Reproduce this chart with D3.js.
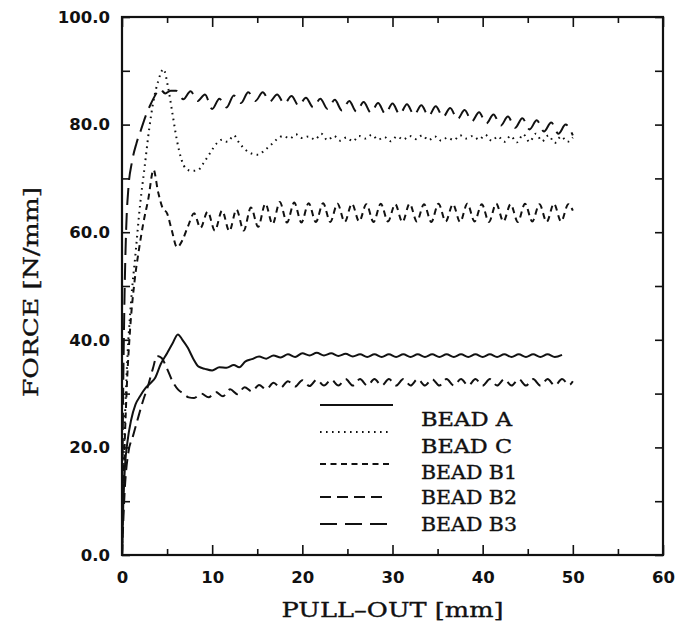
<!DOCTYPE html>
<html lang="en">
<head>
  <meta charset="UTF-8">
  <title>Bead pull-out force</title>
  <script src="https://d3js.org/d3.v7.min.js"></script>
  <style>
    body { margin: 0; background: #fff; }
    .tick text { font-family: "DejaVu Sans", sans-serif; font-weight: bold; font-size: 16.5px; fill: #111; }
    .tick line { stroke: #111; stroke-width: 1.6; }
    .title { font-family: "DejaVu Serif", serif; font-size: 20px; fill: #111; stroke: #111; stroke-width: 0.35; }
    .legend text { font-family: "DejaVu Serif", serif; font-size: 18px; fill: #111; stroke: #111; stroke-width: 0.35; }
    .curve { fill: none; stroke: #111; stroke-width: 2; }
  </style>
</head>
<body>
  <div id="chart"></div>
  <script>
    // pull-out [mm] vs force [N/mm]
    const beadA = [[0,0],[0.15,10],[0.35,17],[0.6,21],[1.0,25],[1.5,28],[2.0,29.5],[2.6,31],[3.2,32],[3.7,33],[4.3,35.5],[5.0,37.5],[5.6,39.3],[6.2,41.0],[6.7,40.0],[7.3,38.5],[7.9,36.5],[8.5,35.0],[9.2,34.6],[10.0,34.3],[10.8,34.9],[11.6,34.8],[12.4,35.3],[13.0,34.9],[13.7,36.0],
      [14.4,36.4],[15.2,36.9],[16.0,36.5],[16.8,37.1],[17.6,36.7],[18.4,37.3],[19.2,36.8],[20.0,37.5],[20.8,37.1],[21.6,37.6],[22.4,37.1],[23.2,37.5],[24.0,37.0],[24.8,37.4],[25.6,36.9],[26.4,37.3],[27.2,36.8],[28.0,37.3],[28.8,36.8],[29.6,37.3],[30.4,36.8],[31.2,37.3],[32.0,36.8],[32.8,37.3],[33.6,36.8],[34.4,37.3],[35.2,36.8],[36.0,37.3],[36.8,36.8],[37.6,37.3],[38.4,36.8],[39.2,37.3],[40.0,36.8],[40.8,37.3],[41.6,36.8],[42.4,37.3],[43.2,36.8],[44.0,37.3],[44.8,36.8],[45.6,37.3],[46.4,36.8],[47.2,37.3],[48.0,36.8],[48.8,37.2]];

    const beadC = [[0,0],[0.2,18],[0.5,33],[1.0,47],[1.5,56],[2.0,65],[2.5,72],[3.0,79],[3.5,84.5],[4.0,88],[4.6,90.3],[5.1,87],[5.6,82],[6.1,77],[6.6,73.5],[7.1,71.8],[7.7,71.4],[8.4,71.5],[9.1,73],[9.8,74.8],[10.5,76.5],[11.1,77.2],[11.7,76.8],[12.4,78.0],[13.0,76.6],[13.7,75.3],[14.4,74.6],[15.1,74.4],[15.8,75.2],[16.5,76.2],[17.2,77.3],[17.9,77.9],[18.6,77.4],[19.3,78.2],[20.0,77.5],[20.7,77.8],[21.4,77.2],[22.1,78.3],[22.8,77.1],[23.5,77.9],[24.2,77.0],[24.9,77.6],[25.6,76.9],[26.3,77.9],[27.0,77.4],[27.7,78.1],[28.4,77.2],[29.1,77.7],[29.8,76.9],[30.5,77.8],[31.2,77.2],[31.9,77.9],[32.6,77.3],[33.3,78.0],[34.0,77.1],[34.7,77.8],[35.4,77.0],[36.1,77.6],[36.8,77.1],[37.5,78.0],[38.2,77.4],[38.9,77.9],[39.6,77.2],[40.3,78.1],[41.0,77.0],[41.7,77.8],[42.4,76.8],[43.1,77.9],[43.8,76.7],[44.5,78.2],[45.2,76.8],[45.9,78.3],[46.6,76.9],[47.3,78.0],[48.0,76.6],[48.7,77.8],[49.4,76.8],[50.0,77.6]];

    const beadB1 = [[0,0],[0.2,15],[0.5,30],[0.9,42],[1.4,51],[1.9,57],[2.4,62],[2.9,66],[3.5,71.6],[4.0,67.5],[4.5,64.5],[5.0,63.5],[5.5,60.5],[6.1,57.2],[6.7,58.5],[7.3,61],[8.0,63.5],[8.7,60.8],[9.5,63.8],[10.3,60.3],[11.1,64.0],[11.9,60.2],[12.7,64.2],[13.5,60.3],[14.3,64.6],[15.1,61.0],[15.9,65.3],[16.7,61.5],[17.5,65.6],[18.3,61.8],[19.1,65.5],[19.9,61.8],[20.7,65.4],[21.5,61.9],[22.3,65.4],[23.1,61.9],[23.9,65.3],[24.7,61.9],[25.5,65.3],[26.3,62.0],[27.1,65.2],[27.9,61.9],[28.7,65.3],[29.5,62.0],[30.3,65.2],[31.1,61.9],[31.9,65.3],[32.7,62.0],[33.5,65.2],[34.3,61.9],[35.1,65.3],[35.9,62.0],[36.7,65.2],[37.5,61.9],[38.3,65.3],[39.1,62.0],[39.9,65.2],[40.7,61.9],[41.5,65.3],[42.3,62.0],[43.1,65.2],[43.9,61.9],[44.7,65.3],[45.5,62.0],[46.3,65.2],[47.1,61.9],[47.9,65.3],[48.7,62.0],[49.5,65.2],[50.0,64.0]];

    const beadB2 = [[0,0],[0.3,12],[0.7,19],[1.2,22],[1.7,25],[2.3,28.5],[2.9,31.5],[3.4,34.5],[3.9,37.0],[4.4,36.6],[5.0,34.6],[5.6,32.3],[6.2,30.8],[6.8,30.0],[7.4,29.3],[8.0,29.2],[8.8,30.0],[9.6,29.3],[10.4,30.3],[11.2,29.5],[12.0,30.8],[12.8,29.9],[13.6,31.2],[14.4,30.4],[15.2,31.6],[16.0,30.8],[16.8,32.0],[17.6,31.1],[18.4,32.3],[19.2,31.3],[20.0,32.5],[20.8,31.4],[21.6,32.6],[22.4,31.5],[23.2,32.6],[24.0,31.5],[24.8,32.7],[25.6,31.5],[26.4,32.7],[27.2,31.5],[28.0,32.7],[28.8,31.5],[29.6,32.7],[30.4,31.5],[31.2,32.7],[32.0,31.5],[32.8,32.7],[33.6,31.5],[34.4,32.7],[35.2,31.5],[36.0,32.7],[36.8,31.5],[37.6,32.7],[38.4,31.5],[39.2,32.7],[40.0,31.5],[40.8,32.7],[41.6,31.5],[42.4,32.7],[43.2,31.5],[44.0,32.7],[44.8,31.5],[45.6,32.7],[46.4,31.5],[47.2,32.7],[48.0,31.5],[48.8,32.7],[49.6,31.6],[50.0,32.3]];

    const beadB3 = [[0,0],[0.1,25],[0.25,45],[0.45,60],[0.7,68],[1.1,73],[1.6,76.5],[2.1,79],[2.6,81.5],[3.1,83.5],[3.6,85.2],[4.2,86.6],[4.8,85.8],[5.4,86.3],[6.0,86.3],[6.8,84.7],[7.6,86.2],[8.4,84.4],[9.2,85.6],[10.0,82.9],[10.8,84.8],[11.6,83.2],[12.4,85.4],[13.2,84.0],[14.0,86.0],[14.8,84.4],[15.6,86.0],[16.4,84.3],[17.2,85.6],[18.0,83.9],[18.8,85.3],[19.6,83.5],[20.4,85.0],[21.2,83.2],[22.0,84.8],[22.8,82.9],[23.6,84.6],[24.4,82.6],[25.2,84.4],[26.0,82.4],[26.8,84.2],[27.6,82.2],[28.4,84.0],[29.2,82.0],[30.0,83.9],[30.8,81.9],[31.6,83.8],[32.4,81.8],[33.2,83.6],[34.0,81.6],[34.8,83.4],[35.6,81.4],[36.4,83.1],[37.2,81.0],[38.0,82.7],[38.8,80.6],[39.6,82.3],[40.4,80.2],[41.2,81.9],[42.0,79.8],[42.8,81.5],[43.6,79.4],[44.4,81.2],[45.2,79.1],[46.0,80.8],[46.8,78.7],[47.6,80.4],[48.4,78.3],[49.2,80.0],[50.0,78.0]];

    const seriesNames = ["BEAD A", "BEAD C", "BEAD B1", "BEAD B2", "BEAD B3"];
    const seriesData = [beadA, beadC, beadB1, beadB2, beadB3];
    const dashes = ["none", "1.6,4.4", "6,4.5", "11,6", "17,8"];

    const xTicks = [0, 10, 20, 30, 40, 50, 60];
    const yTicks = [0, 20, 40, 60, 80, 100];

    const W = 675, H = 629;
    const mLeft = 122, mRight = 663, mTop = 17, mBottom = 555;

    const svg = d3.select("#chart").append("svg")
      .attr("width", W)
      .attr("height", H);

    const x = d3.scaleLinear().domain([0, 60]).range([mLeft, mRight]);
    const y = d3.scaleLinear().domain([0, 100]).range([mBottom, mTop]);

    const minorX = d3.range(0, 61, 5).filter(d => d % 10 !== 0);
    const allY = d3.range(0, 101, 10);

    // bottom axis with labels + minor ticks
    svg.append("g")
      .attr("transform", `translate(0,${mBottom})`)
      .call(d3.axisBottom(x).tickValues(xTicks).tickSize(-10).tickPadding(16).tickFormat(d3.format("d")));
    svg.append("g")
      .attr("transform", `translate(0,${mBottom})`)
      .call(d3.axisBottom(x).tickValues(minorX).tickSize(-6).tickFormat(""));

    // top axis, ticks only
    svg.append("g")
      .attr("transform", `translate(0,${mTop})`)
      .call(d3.axisTop(x).tickValues(xTicks).tickSize(-10).tickFormat(""));
    svg.append("g")
      .attr("transform", `translate(0,${mTop})`)
      .call(d3.axisTop(x).tickValues(minorX).tickSize(-6).tickFormat(""));

    // left axis with labels
    svg.append("g")
      .attr("transform", `translate(${mLeft},0)`)
      .call(d3.axisLeft(y).tickValues(yTicks).tickSize(0).tickPadding(12).tickFormat(d3.format(".1f")));
    svg.append("g")
      .attr("transform", `translate(${mLeft},0)`)
      .call(d3.axisLeft(y).tickValues(allY).tickSize(-8).tickFormat(""));

    // right axis, ticks only
    svg.append("g")
      .attr("transform", `translate(${mRight},0)`)
      .call(d3.axisRight(y).tickValues(allY).tickSize(-8).tickFormat(""));

    svg.selectAll(".domain").remove();

    svg.append("rect")
      .attr("x", mLeft).attr("y", mTop)
      .attr("width", mRight - mLeft).attr("height", mBottom - mTop)
      .attr("fill", "none").attr("stroke", "#111").attr("stroke-width", 2.2);

    // curves
    const line = d3.line()
      .x(d => x(d[0]))
      .y(d => y(d[1]))
      .curve(d3.curveMonotoneX);

    svg.selectAll(".curve")
      .data(seriesData)
      .join("path")
      .attr("class", "curve")
      .attr("d", line)
      .attr("stroke-dasharray", (d, i) => dashes[i]);

    // axis titles
    svg.append("text")
      .attr("class", "title")
      .attr("x", (mLeft + mRight) / 2)
      .attr("y", 617)
      .attr("text-anchor", "middle")
      .attr("textLength", 222)
      .attr("lengthAdjust", "spacingAndGlyphs")
      .text("PULL\u2013OUT [mm]");

    svg.append("text")
      .attr("class", "title")
      .attr("transform", `translate(38,${(mTop + mBottom) / 2 + 6}) rotate(-90)`)
      .attr("text-anchor", "middle")
      .attr("textLength", 210)
      .attr("lengthAdjust", "spacingAndGlyphs")
      .text("FORCE [N/mm]");

    // legend
    const legendRows = [419, 446, 472, 497, 524];
    const legendLineY = [405, 432, 464, 497, 524];
    const legendLineEnd = [393, 390, 392, 385, 393];
    const legendTextLen = [91, 91, 96, 96, 96];

    const legend = svg.append("g").attr("class", "legend");
    legend.selectAll("line")
      .data(seriesNames)
      .join("line")
      .attr("x1", 320)
      .attr("x2", (d, i) => legendLineEnd[i])
      .attr("y1", (d, i) => legendLineY[i])
      .attr("y2", (d, i) => legendLineY[i])
      .attr("stroke", "#111")
      .attr("stroke-width", 2)
      .attr("stroke-dasharray", (d, i) => dashes[i]);

    legend.selectAll("text")
      .data(seriesNames)
      .join("text")
      .attr("x", 421)
      .attr("y", (d, i) => legendRows[i] + 6.5)
      .attr("textLength", (d, i) => legendTextLen[i])
      .attr("lengthAdjust", "spacingAndGlyphs")
      .text(d => d);
  </script>
</body>
</html>
